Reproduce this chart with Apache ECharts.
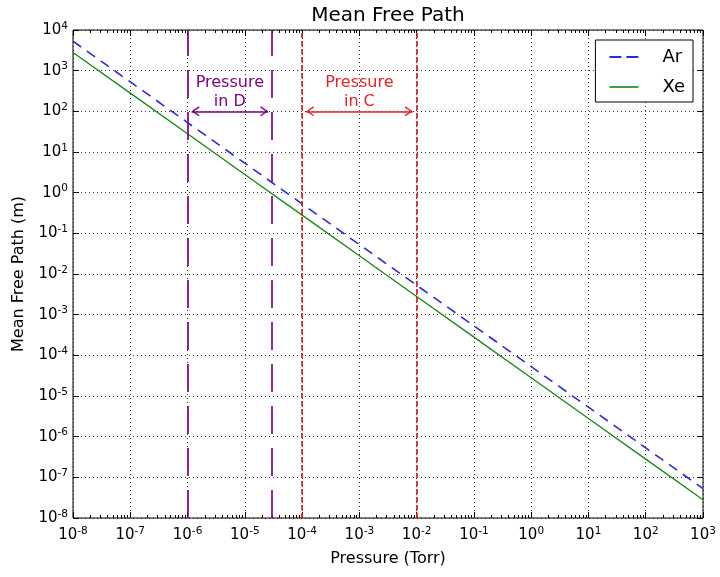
<!DOCTYPE html>
<html>
<head>
<meta charset="utf-8">
<title>Mean Free Path</title>
<script src="https://cdn.jsdelivr.net/npm/echarts@6/dist/echarts.min.js"></script>
<style>
  html, body { margin: 0; padding: 0; background: #fff; }
  #chart { width: 720px; height: 577px; }
</style>
</head>
<body>
<div id="chart"></div>
<script>
// Pressure grid (Torr) and mean free path (m) for argon and xenon
const pressureTorr = [1e-8, 1e-7, 1e-6, 1e-5, 1e-4, 1e-3, 1e-2, 1e-1, 1e0, 1e1, 1e2, 1e3];
const mfpAr = [5.3e3, 5.3e2, 5.3e1, 5.3e0, 5.3e-1, 5.3e-2, 5.3e-3, 5.3e-4, 5.3e-5, 5.3e-6, 5.3e-7, 5.3e-8];
const mfpXe = [2.8e3, 2.8e2, 2.8e1, 2.8e0, 2.8e-1, 2.8e-2, 2.8e-3, 2.8e-4, 2.8e-5, 2.8e-6, 2.8e-7, 2.8e-8];

// Axis ranges and decade tick values
const xRange = [1e-8, 1e3];
const yRange = [1e-8, 1e4];
const xTicks = [1e-8, 1e-7, 1e-6, 1e-5, 1e-4, 1e-3, 1e-2, 1e-1, 1e0, 1e1, 1e2, 1e3];
const yTicks = [1e-8, 1e-7, 1e-6, 1e-5, 1e-4, 1e-3, 1e-2, 1e-1, 1e0, 1e1, 1e2, 1e3, 1e4];

// Operating pressure ranges of the two chambers
const rangeD = [1e-6, 3e-5];
const rangeC = [1e-4, 1e-2];
const arrowLevel = 100;
const labelD = 'Pressure\nin D';
const labelC = 'Pressure\nin C';

const FONT = 'DejaVu Sans';
const PURPLE = '#800080';
const RED = '#e62222';
const BLUE = '#2a2ae0';
const GREEN = '#128a12';
const ARROW_SHRINK = 4; // gap in px between arrow tips and the range lines

// Minor ticks at 2..9 within each decade of the pressure axis
const xMinor = [];
for (let k = -8; k < 3; k++) {
  for (let m = 2; m <= 9; m++) xMinor.push(m * Math.pow(10, k));
}

const powerLabel = v => '{b|10}{e|' + Math.round(Math.log10(v)) + '}';
const powerRich = {
  b: { fontFamily: FONT, fontSize: 15, lineHeight: 19, color: '#000' },
  e: { fontFamily: FONT, fontSize: 10.5, lineHeight: 10, verticalAlign: 'top', color: '#000' }
};
const gridLine = { show: true, lineStyle: { color: '#000', width: 0.8, type: [1, 3] } };
const noLine = { show: false };

// Open arrow head pointing up; a tiny speck at the top keeps the tip at the symbol centre
const chevron = 'path://M4.95,0 L5.05,0 L5,0.1 Z M5,8 L10,15.2 L8.9,16 L5,10.4 L1.1,16 L0,15.2 Z';
// Legend keys: dashed and solid strokes
const dashedKey = 'path://M0,0 H12 V2 H0 Z M17,0 H29 V2 H17 Z';
const solidKey = 'path://M0,0 H29 V1.6 H0 Z';

function pairs(xs, ys) { return xs.map((x, i) => [x, ys[i]]); }
// Full-height vertical line at a given pressure
function vline(p) { return [{ coord: [p, yRange[0]] }, { coord: [p, yRange[1]] }]; }
function spanLine(r) { return [[{ coord: [r[0], arrowLevel] }, { coord: [r[1], arrowLevel] }]]; }

const logX = { type: 'log', logBase: 10, min: xRange[0], max: xRange[1], gridIndex: 0 };
const logY = { type: 'log', logBase: 10, min: yRange[0], max: yRange[1], gridIndex: 0 };

function spanSeries(id, color, text, range) {
  return {
    id: id, name: id, type: 'line', data: [], z: 5,
    markLine: {
      silent: true, symbol: [chevron, chevron], symbolSize: [10, 16],
      lineStyle: { color: color, width: 1.6, type: 'solid' },
      label: { show: true, position: 'middle', formatter: text, color: color, fontFamily: FONT, fontSize: 16, lineHeight: 19, distance: 0 },
      data: spanLine(range)
    }
  };
}

const option = {
  animation: false,
  textStyle: { fontFamily: FONT },
  title: {
    text: 'Mean Free Path',
    left: 383, top: 1, textAlign: 'center',
    textStyle: { fontFamily: FONT, fontSize: 20, fontWeight: 'normal', color: '#000' }
  },
  grid: { left: 73, right: 17, top: 30, bottom: 59, show: true, borderColor: '#000', borderWidth: 1, backgroundColor: '#fff' },
  legend: {
    data: [{ name: 'Ar', icon: dashedKey }, { name: 'Xe', icon: solidKey }],
    orient: 'vertical', right: 27, top: 40,
    borderColor: '#000', borderWidth: 1, borderRadius: 0,
    padding: [7, 8, 5, 14],
    itemWidth: 29, itemHeight: 2, itemGap: 10,
    backgroundColor: '#fff',
    textStyle: { fontFamily: FONT, fontSize: 18, lineHeight: 20, color: '#000', padding: [0, 0, 0, 19] }
  },
  xAxis: [
    Object.assign({}, logX, {
      position: 'bottom',
      axisLine: noLine,
      axisTick: { inside: true, length: 6, lineStyle: { color: '#000' }, customValues: xTicks },
      axisLabel: { customValues: xTicks, formatter: powerLabel, rich: powerRich, margin: 8 },
      splitLine: gridLine,
      name: 'Pressure (Torr)', nameLocation: 'middle', nameGap: 33,
      nameTextStyle: { fontFamily: FONT, fontSize: 16, color: '#000' }
    }),
    Object.assign({}, logX, {
      position: 'top',
      axisLine: noLine, axisLabel: noLine, splitLine: noLine,
      axisTick: { inside: true, length: 6, lineStyle: { color: '#000' }, customValues: xTicks }
    }),
    Object.assign({}, logX, {
      position: 'bottom',
      axisLine: noLine, axisLabel: noLine, splitLine: noLine,
      axisTick: { inside: true, length: 3, lineStyle: { color: '#000' }, customValues: xMinor }
    }),
    Object.assign({}, logX, {
      position: 'top',
      axisLine: noLine, axisLabel: noLine, splitLine: noLine,
      axisTick: { inside: true, length: 3, lineStyle: { color: '#000' }, customValues: xMinor }
    })
  ],
  yAxis: [
    Object.assign({}, logY, {
      position: 'left',
      axisLine: noLine,
      axisTick: { inside: true, length: 6, lineStyle: { color: '#000' }, customValues: yTicks },
      axisLabel: { customValues: yTicks, formatter: powerLabel, rich: powerRich, margin: 5 },
      splitLine: gridLine,
      name: 'Mean Free Path (m)', nameLocation: 'middle', nameGap: 46,
      nameTextStyle: { fontFamily: FONT, fontSize: 16, color: '#000' }
    }),
    Object.assign({}, logY, {
      position: 'right',
      axisLine: noLine, axisLabel: noLine, splitLine: noLine,
      axisTick: { inside: true, length: 6, lineStyle: { color: '#000' }, customValues: yTicks }
    })
  ],
  series: [
    {
      name: 'Ar', type: 'line', data: pairs(pressureTorr, mfpAr),
      symbol: 'none', showSymbol: false, z: 4,
      lineStyle: { color: BLUE, width: 1.6, type: [10, 7] },
      itemStyle: { color: BLUE }
    },
    {
      name: 'Xe', type: 'line', data: pairs(pressureTorr, mfpXe),
      symbol: 'none', showSymbol: false, z: 4,
      lineStyle: { color: GREEN, width: 1.3, type: 'solid' },
      itemStyle: { color: GREEN }
    },
    {
      name: 'D bounds', type: 'line', data: [], z: 3,
      markLine: {
        silent: true, symbol: ['none', 'none'],
        label: { show: false },
        lineStyle: { color: PURPLE, width: 2, type: [28, 14], opacity: 0.85 },
        data: rangeD.map(vline)
      }
    },
    {
      name: 'C bounds', type: 'line', data: [], z: 3,
      markLine: {
        silent: true, symbol: ['none', 'none'],
        label: { show: false },
        lineStyle: { color: RED, width: 1.8, type: [5, 3] },
        data: rangeC.map(vline)
      }
    },
    spanSeries('spanD', PURPLE, labelD, rangeD),
    spanSeries('spanC', RED, labelC, rangeC)
  ]
};

const chart = echarts.init(document.getElementById('chart'), null, { renderer: 'canvas' });
chart.setOption(option);

// Pull the arrow tips in from the range lines by a few pixels, through the x scale
function shrunk(range) {
  const f = { xAxisIndex: 0 };
  const a = chart.convertToPixel(f, range[0]);
  const b = chart.convertToPixel(f, range[1]);
  return [chart.convertFromPixel(f, a + ARROW_SHRINK), chart.convertFromPixel(f, b - ARROW_SHRINK)];
}
chart.setOption({
  series: [
    { id: 'spanD', markLine: { data: spanLine(shrunk(rangeD)) } },
    { id: 'spanC', markLine: { data: spanLine(shrunk(rangeC)) } }
  ]
});
</script>
</body>
</html>
